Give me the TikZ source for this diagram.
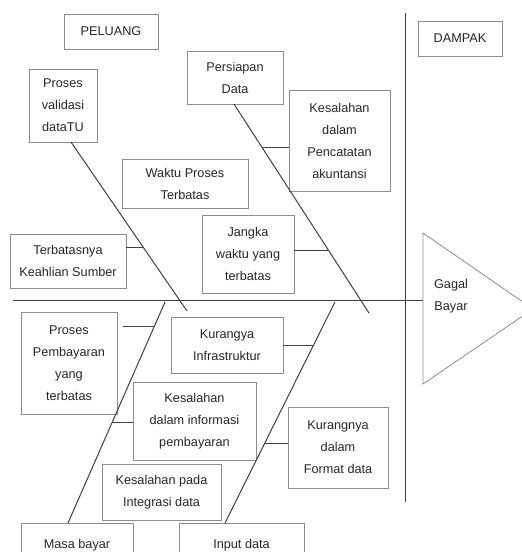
\documentclass[tikz,border=0pt]{standalone}
\usepackage{fontspec}
\setmainfont{Liberation Sans}
\usetikzlibrary{calc}

\tikzset{
    box/.style={draw=black!45, line width=0.8pt, align=center, inner sep=0pt,
        text=black!85, font=\fontsize{12.7}{22}\selectfont},
    bone/.style={draw=black!75, line width=1pt},
}

\begin{document}
\begin{tikzpicture}[x=1pt, y=-1pt]
    \useasboundingbox (0,0) rectangle (522,552);
    % labels
    \node[box, minimum width=94, minimum height=35] (peluang) at (111,31.5) {PELUANG};
    \node[box, minimum width=84, minimum height=35] (dampak) at (460,38.5) {DAMPAK};
    % causes
    \node[box, minimum width=68, minimum height=73] (validasi) at (63,105.5) {Proses\\validasi\\dataTU};
    \node[box, minimum width=96, minimum height=53] (persiapan) at (235,77.5) {Persiapan\\Data};
    \node[box, minimum width=101, minimum height=101] (pencatatan) at (339.5,140.5) {Kesalahan\\dalam\\Pencatatan\\akuntansi};
    \node[box, minimum width=126, minimum height=49] (waktu) at (185,183.5) {Waktu Proses\\Terbatas};
    \node[box, minimum width=116, minimum height=54] (keahlian) at (68,261) {Terbatasnya\\Keahlian Sumber};
    \node[box, minimum width=92, minimum height=78] (jangka) at (248,254) {Jangka\\waktu yang\\terbatas};
    \node[box, minimum width=96, minimum height=102] (pembayaran) at (69,363) {Proses\\Pembayaran\\yang\\terbatas};
    \node[box, minimum width=112, minimum height=56] (infra) at (227,345) {Kurangya\\Infrastruktur};
    \node[box, minimum width=123, minimum height=78] (informasi) at (194.5,421) {Kesalahan\\dalam informasi\\pembayaran};
    \node[box, minimum width=119, minimum height=56] (integrasi) at (161.5,492) {Kesalahan pada\\Integrasi data};
    \node[box, minimum width=100, minimum height=81] (format) at (338,447.5) {Kurangnya\\dalam\\Format data};
    \node[box, minimum width=112, minimum height=44] (masa) at (77,545) {Masa bayar};
    \node[box, minimum width=125, minimum height=44] (input) at (241.5,545) {Input data};
    % head
    \coordinate (tl) at (423,233);
    \coordinate (bl) at (423,384);
    \coordinate (tip) at (533,309);
    \draw[draw=black!45, line width=0.8pt] (tl) -- (tip) -- (bl) -- cycle;
    \node[align=center, text=black!85, font=\fontsize{12.7}{22}\selectfont] (gagal) at (451,296) {Gagal\\Bayar};
    % spine and divider
    \coordinate (tail) at (13,300);
    \coordinate (head) at (423,300);
    \draw[bone] (tail) -- (head);
    \coordinate (divtop) at (405,13);
    \coordinate (divbot) at (405,502);
    \draw[bone] (divtop) -- (divbot);
    % bones
    \coordinate (b1a) at (71,142);
    \coordinate (b1b) at (187,311);
    \coordinate (b2a) at (234,104);
    \coordinate (b2b) at (369,313);
    \coordinate (b3a) at (165,302);
    \coordinate (b3b) at (68,523);
    \coordinate (b4a) at (335,302);
    \coordinate (b4b) at (225,523);
    \draw[bone] (b1a) -- (b1b);
    \draw[bone] (b2a) -- (b2b);
    \draw[bone] (b3a) -- (b3b);
    \draw[bone] (b4a) -- (b4b);
    % branches
    \coordinate (k1) at ($(b1a)!0.627!(b1b)$);
    \coordinate (k2) at ($(b2a)!0.21!(b2b)$);
    \coordinate (k3) at ($(b2a)!0.70!(b2b)$);
    \coordinate (k4) at ($(b3a)!0.113!(b3b)$);
    \coordinate (k5) at ($(b3a)!0.543!(b3b)$);
    \coordinate (k6) at ($(b4a)!0.195!(b4b)$);
    \coordinate (k7) at ($(b4a)!0.638!(b4b)$);
    \draw[bone] (keahlian.east |- k1) -- (k1);
    \draw[bone] (pencatatan.west |- k2) -- (k2);
    \draw[bone] (jangka.east |- k3) -- (k3);
    \draw[bone] ($(pembayaran.east |- k4)+(6,0)$) -- (k4);
    \draw[bone] (informasi.west |- k5) -- (k5);
    \draw[bone] (infra.east |- k6) -- (k6);
    \draw[bone] (format.west |- k7) -- (k7);
\end{tikzpicture}
\end{document}
